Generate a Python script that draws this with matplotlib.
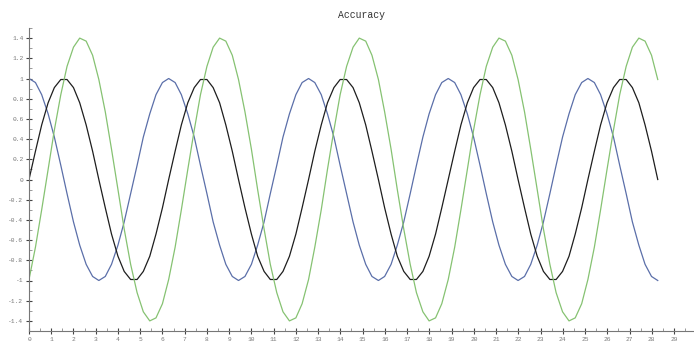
import matplotlib
matplotlib.use("Agg")
import matplotlib.pyplot as plt
from matplotlib.ticker import MultipleLocator, FuncFormatter

x = [0.00, 0.29, 0.57, 0.86, 1.14, 1.43, 1.71, 2.00, 2.28, 2.57,
     2.86, 3.14, 3.43, 3.71, 4.00, 4.28, 4.57, 4.86, 5.14, 5.43,
     5.71, 6.00, 6.28, 6.57, 6.85, 7.14, 7.43, 7.71, 8.00, 8.28,
     8.57, 8.85, 9.14, 9.42, 9.71, 10.00, 10.28, 10.57, 10.85, 11.14,
     11.42, 11.71, 12.00, 12.28, 12.57, 12.85, 13.14, 13.42, 13.71, 13.99,
     14.28, 14.57, 14.85, 15.14, 15.42, 15.71, 15.99, 16.28, 16.56, 16.85,
     17.14, 17.42, 17.71, 17.99, 18.28, 18.56, 18.85, 19.14, 19.42, 19.71,
     19.99, 20.28, 20.56, 20.85, 21.13, 21.42, 21.71, 21.99, 22.28, 22.56,
     22.85, 23.13, 23.42, 23.70, 23.99, 24.28, 24.56, 24.85, 25.13, 25.42,
     25.70, 25.99, 26.28, 26.56, 26.85, 27.13, 27.42, 27.70, 27.99, 28.27]

black_series = [
    0.00, 0.28, 0.54, 0.76, 0.91, 0.99, 0.99, 0.91, 0.76, 0.54, 0.28,
    0.00, -0.28, -0.54, -0.76, -0.91, -0.99, -0.99, -0.91, -0.76, -0.54, -0.28,
    0.00, 0.28, 0.54, 0.76, 0.91, 0.99, 0.99, 0.91, 0.76, 0.54, 0.28,
    0.00, -0.28, -0.54, -0.76, -0.91, -0.99, -0.99, -0.91, -0.76, -0.54, -0.28,
    0.00, 0.28, 0.54, 0.76, 0.91, 0.99, 0.99, 0.91, 0.76, 0.54, 0.28,
    0.00, -0.28, -0.54, -0.76, -0.91, -0.99, -0.99, -0.91, -0.76, -0.54, -0.28,
    0.00, 0.28, 0.54, 0.76, 0.91, 0.99, 0.99, 0.91, 0.76, 0.54, 0.28,
    0.00, -0.28, -0.54, -0.76, -0.91, -0.99, -0.99, -0.91, -0.76, -0.54, -0.28,
    0.00, 0.28, 0.54, 0.76, 0.91, 0.99, 0.99, 0.91, 0.76, 0.54, 0.28,
    0.00]

blue_series = [
    1.00, 0.96, 0.84, 0.65, 0.42, 0.14, -0.14, -0.42, -0.65, -0.84, -0.96,
    -1.00, -0.96, -0.84, -0.65, -0.42, -0.14, 0.14, 0.42, 0.65, 0.84, 0.96,
    1.00, 0.96, 0.84, 0.65, 0.42, 0.14, -0.14, -0.42, -0.65, -0.84, -0.96,
    -1.00, -0.96, -0.84, -0.65, -0.42, -0.14, 0.14, 0.42, 0.65, 0.84, 0.96,
    1.00, 0.96, 0.84, 0.65, 0.42, 0.14, -0.14, -0.42, -0.65, -0.84, -0.96,
    -1.00, -0.96, -0.84, -0.65, -0.42, -0.14, 0.14, 0.42, 0.65, 0.84, 0.96,
    1.00, 0.96, 0.84, 0.65, 0.42, 0.14, -0.14, -0.42, -0.65, -0.84, -0.96,
    -1.00, -0.96, -0.84, -0.65, -0.42, -0.14, 0.14, 0.42, 0.65, 0.84, 0.96,
    1.00, 0.96, 0.84, 0.65, 0.42, 0.14, -0.14, -0.42, -0.65, -0.84, -0.96,
    -1.00]

green_series = [
    -0.99, -0.67, -0.30, 0.10, 0.49, 0.84, 1.12, 1.31, 1.40, 1.37, 1.23,
    0.99, 0.67, 0.30, -0.10, -0.49, -0.84, -1.12, -1.31, -1.40, -1.37, -1.23,
    -0.99, -0.67, -0.30, 0.10, 0.49, 0.84, 1.12, 1.31, 1.40, 1.37, 1.23,
    0.99, 0.67, 0.30, -0.10, -0.49, -0.84, -1.12, -1.31, -1.40, -1.37, -1.23,
    -0.99, -0.67, -0.30, 0.10, 0.49, 0.84, 1.12, 1.31, 1.40, 1.37, 1.23,
    0.99, 0.67, 0.30, -0.10, -0.49, -0.84, -1.12, -1.31, -1.40, -1.37, -1.23,
    -0.99, -0.67, -0.30, 0.10, 0.49, 0.84, 1.12, 1.31, 1.40, 1.37, 1.23,
    0.99, 0.67, 0.30, -0.10, -0.49, -0.84, -1.12, -1.31, -1.40, -1.37, -1.23,
    -0.99, -0.67, -0.30, 0.10, 0.49, 0.84, 1.12, 1.31, 1.40, 1.37, 1.23,
    0.99]

title = "Accuracy"

fig = plt.figure(figsize=(6.94, 3.43), dpi=100)
ax = fig.add_axes([29 / 694, 1 - 331 / 343, 665 / 694, 303 / 343])

ax.plot(x, blue_series, color="#5b6fa9", lw=0.9)
ax.plot(x, black_series, color="#1e1e1e", lw=0.9)
ax.plot(x, green_series, color="#86c272", lw=0.9)

ax.set_xlim(0, 29.9)
ax.set_ylim(-1.5, 1.5)

for s in ("top", "right"):
    ax.spines[s].set_visible(False)
for s in ("left", "bottom"):
    ax.spines[s].set_color("#777777")
    ax.spines[s].set_linewidth(0.8)

ax.xaxis.set_major_locator(MultipleLocator(1))
ax.xaxis.set_minor_locator(MultipleLocator(0.5))
ax.yaxis.set_major_locator(MultipleLocator(0.2))
ax.yaxis.set_minor_locator(MultipleLocator(0.1))
fmt = FuncFormatter(lambda v, p: ("%g" % round(v, 2)).replace("-0", "-0") if abs(v) > 1e-9 else "0")
ax.xaxis.set_major_formatter(fmt)
ax.yaxis.set_major_formatter(fmt)

ax.tick_params(which="major", direction="inout", length=5, width=0.8,
               color="#444444", labelsize=4.5, labelcolor="#777777", pad=1.5,
               labelfontfamily="Liberation Mono")
ax.tick_params(which="minor", direction="in", length=2.5, width=0.6, color="#888888")

ax.set_title(title, fontsize=7, family="Liberation Mono", color="#333333", pad=7)

fig.savefig("out.png", dpi=100)
